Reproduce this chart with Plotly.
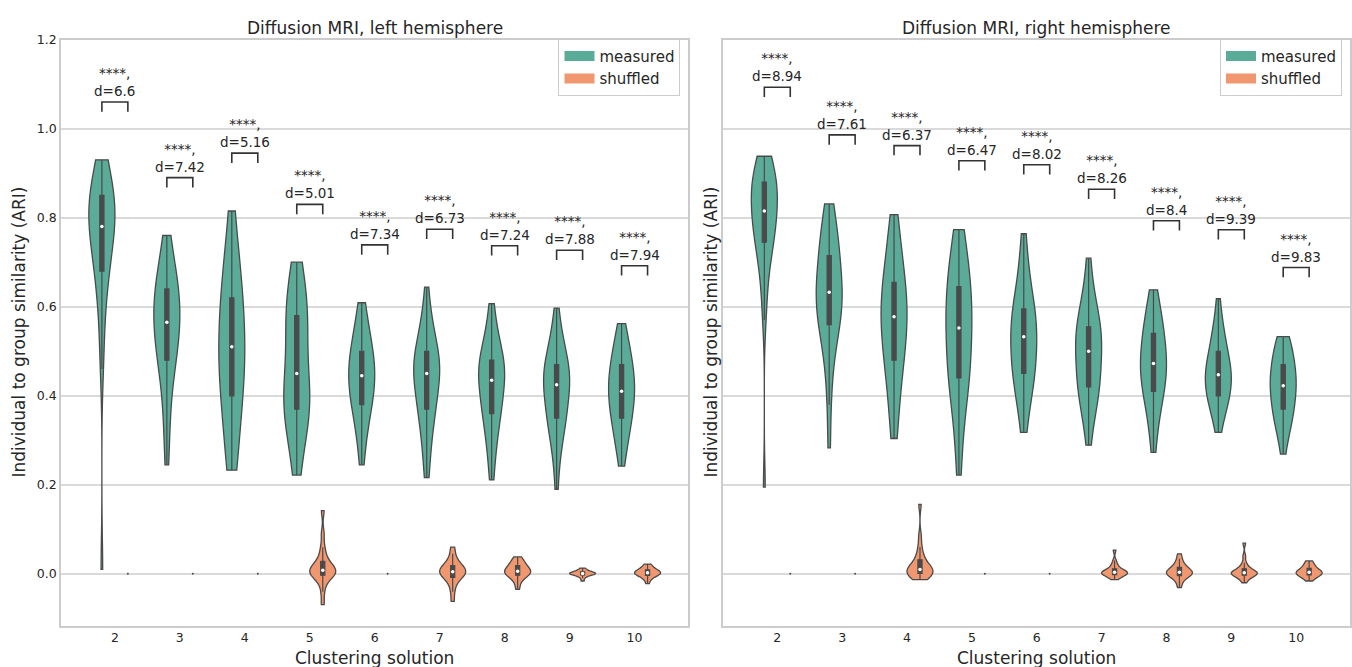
import numpy as np
import plotly.graph_objects as go

# ---------------- data ----------------
categories = ['2', '3', '4', '5', '6', '7', '8', '9', '10']

left_measured = [
    [0.01, 0.46, 0.52, 0.58, 0.62, 0.65, 0.67, 0.68, 0.70, 0.72, 0.74, 0.75, 0.76, 0.77, 0.78, 0.78, 0.79, 0.80, 0.81, 0.82, 0.83, 0.84, 0.85, 0.85, 0.86, 0.87, 0.88, 0.90, 0.92, 0.93],
    [0.245, 0.30, 0.35, 0.39, 0.42, 0.45, 0.47, 0.48, 0.49, 0.51, 0.52, 0.53, 0.54, 0.55, 0.56, 0.57, 0.58, 0.59, 0.60, 0.61, 0.62, 0.63, 0.64, 0.64, 0.66, 0.67, 0.69, 0.71, 0.73, 0.76],
    [0.233, 0.24, 0.27, 0.30, 0.33, 0.36, 0.38, 0.40, 0.41, 0.43, 0.44, 0.46, 0.47, 0.48, 0.50, 0.52, 0.53, 0.54, 0.56, 0.57, 0.59, 0.61, 0.62, 0.64, 0.66, 0.68, 0.70, 0.73, 0.77, 0.815],
    [0.222, 0.25, 0.28, 0.31, 0.33, 0.35, 0.36, 0.37, 0.38, 0.38, 0.39, 0.40, 0.41, 0.42, 0.44, 0.46, 0.48, 0.50, 0.52, 0.54, 0.56, 0.57, 0.58, 0.59, 0.60, 0.62, 0.64, 0.66, 0.68, 0.70],
    [0.245, 0.28, 0.31, 0.33, 0.35, 0.36, 0.37, 0.38, 0.39, 0.40, 0.41, 0.42, 0.43, 0.43, 0.44, 0.45, 0.45, 0.46, 0.47, 0.48, 0.49, 0.50, 0.50, 0.51, 0.52, 0.54, 0.55, 0.57, 0.59, 0.609],
    [0.216, 0.25, 0.28, 0.31, 0.33, 0.35, 0.36, 0.37, 0.38, 0.39, 0.40, 0.42, 0.43, 0.44, 0.45, 0.45, 0.46, 0.46, 0.47, 0.47, 0.48, 0.49, 0.50, 0.51, 0.52, 0.53, 0.55, 0.57, 0.59, 0.644],
    [0.211, 0.25, 0.28, 0.30, 0.32, 0.34, 0.35, 0.36, 0.37, 0.38, 0.39, 0.40, 0.41, 0.42, 0.43, 0.44, 0.45, 0.45, 0.46, 0.46, 0.47, 0.48, 0.48, 0.49, 0.50, 0.51, 0.53, 0.55, 0.57, 0.607],
    [0.19, 0.25, 0.28, 0.30, 0.32, 0.33, 0.34, 0.35, 0.36, 0.37, 0.38, 0.39, 0.40, 0.41, 0.42, 0.43, 0.43, 0.44, 0.45, 0.45, 0.46, 0.46, 0.47, 0.48, 0.49, 0.50, 0.52, 0.54, 0.55, 0.597],
    [0.242, 0.27, 0.29, 0.31, 0.32, 0.33, 0.34, 0.35, 0.36, 0.37, 0.38, 0.39, 0.40, 0.40, 0.41, 0.41, 0.42, 0.43, 0.44, 0.45, 0.45, 0.46, 0.47, 0.48, 0.49, 0.50, 0.51, 0.53, 0.54, 0.562],
]

left_shuffled = [
    [0.0, 0.0, 0.0],
    [0.0, 0.0, 0.0],
    [0.0, 0.0, 0.0],
    [-0.069, -0.04, -0.02, -0.01, -0.004, -0.002, 0.0, 0.002, 0.004, 0.007, 0.009, 0.012, 0.016, 0.02, 0.026, 0.03, 0.045, 0.06, 0.09, 0.142],
    [0.0, 0.0, 0.0],
    [-0.062, -0.04, -0.025, -0.015, -0.01, -0.006, -0.003, 0.0, 0.002, 0.004, 0.006, 0.008, 0.011, 0.014, 0.017, 0.02, 0.025, 0.032, 0.045, 0.06],
    [-0.035, -0.022, -0.012, -0.006, -0.004, -0.002, 0.0, 0.002, 0.004, 0.005, 0.007, 0.009, 0.011, 0.014, 0.017, 0.02, 0.024, 0.028, 0.033, 0.038],
    [-0.016, -0.01, -0.006, -0.004, -0.003, -0.002, -0.001, 0.0, 0.0, 0.001, 0.001, 0.002, 0.002, 0.003, 0.004, 0.005, 0.006, 0.008, 0.01, 0.013],
    [-0.022, -0.014, -0.009, -0.006, -0.004, -0.003, -0.001, 0.0, 0.001, 0.002, 0.003, 0.004, 0.005, 0.006, 0.008, 0.01, 0.012, 0.015, 0.018, 0.022],
]

right_measured = [
    [0.195, 0.57, 0.62, 0.66, 0.69, 0.71, 0.73, 0.745, 0.75, 0.76, 0.77, 0.78, 0.79, 0.80, 0.81, 0.82, 0.83, 0.84, 0.84, 0.85, 0.86, 0.87, 0.88, 0.88, 0.89, 0.90, 0.91, 0.92, 0.93, 0.938],
    [0.283, 0.38, 0.44, 0.48, 0.51, 0.53, 0.55, 0.56, 0.565, 0.58, 0.59, 0.60, 0.61, 0.62, 0.63, 0.635, 0.64, 0.65, 0.66, 0.68, 0.69, 0.71, 0.715, 0.73, 0.74, 0.76, 0.77, 0.79, 0.81, 0.831],
    [0.304, 0.33, 0.37, 0.40, 0.43, 0.45, 0.47, 0.48, 0.49, 0.51, 0.52, 0.54, 0.55, 0.56, 0.57, 0.585, 0.59, 0.60, 0.61, 0.62, 0.63, 0.65, 0.655, 0.67, 0.69, 0.71, 0.73, 0.75, 0.78, 0.807],
    [0.222, 0.28, 0.33, 0.37, 0.40, 0.42, 0.43, 0.44, 0.45, 0.46, 0.48, 0.50, 0.52, 0.53, 0.545, 0.56, 0.57, 0.58, 0.59, 0.60, 0.62, 0.635, 0.645, 0.66, 0.67, 0.69, 0.71, 0.73, 0.75, 0.773],
    [0.318, 0.35, 0.38, 0.40, 0.42, 0.43, 0.44, 0.45, 0.455, 0.47, 0.48, 0.49, 0.50, 0.51, 0.53, 0.535, 0.54, 0.55, 0.56, 0.57, 0.58, 0.585, 0.595, 0.61, 0.62, 0.64, 0.66, 0.69, 0.72, 0.764],
    [0.289, 0.33, 0.36, 0.38, 0.39, 0.40, 0.41, 0.42, 0.425, 0.44, 0.45, 0.46, 0.47, 0.48, 0.495, 0.505, 0.51, 0.52, 0.53, 0.54, 0.545, 0.55, 0.555, 0.57, 0.58, 0.59, 0.61, 0.63, 0.66, 0.709],
    [0.273, 0.31, 0.34, 0.36, 0.38, 0.39, 0.40, 0.41, 0.42, 0.43, 0.44, 0.45, 0.455, 0.46, 0.47, 0.475, 0.48, 0.49, 0.50, 0.51, 0.52, 0.53, 0.54, 0.55, 0.56, 0.57, 0.58, 0.60, 0.62, 0.638],
    [0.318, 0.34, 0.36, 0.37, 0.38, 0.39, 0.395, 0.40, 0.405, 0.41, 0.42, 0.43, 0.435, 0.44, 0.445, 0.45, 0.455, 0.46, 0.465, 0.47, 0.48, 0.49, 0.50, 0.51, 0.52, 0.53, 0.54, 0.56, 0.58, 0.618],
    [0.269, 0.30, 0.32, 0.33, 0.34, 0.35, 0.36, 0.37, 0.37, 0.38, 0.39, 0.40, 0.41, 0.41, 0.42, 0.425, 0.43, 0.44, 0.44, 0.45, 0.46, 0.465, 0.47, 0.48, 0.49, 0.50, 0.51, 0.52, 0.525, 0.533],
]

right_shuffled = [
    [0.0, 0.0, 0.0],
    [0.0, 0.0, 0.0],
    [-0.013, -0.01, -0.006, -0.003, 0.0, 0.002, 0.004, 0.005, 0.007, 0.009, 0.011, 0.014, 0.018, 0.022, 0.028, 0.035, 0.045, 0.06, 0.085, 0.156],
    [0.0, 0.0, 0.0],
    [0.0, 0.0, 0.0],
    [-0.013, -0.009, -0.006, -0.004, -0.002, -0.001, 0.0, 0.001, 0.002, 0.003, 0.004, 0.005, 0.006, 0.008, 0.01, 0.013, 0.017, 0.022, 0.03, 0.053],
    [-0.031, -0.02, -0.012, -0.008, -0.005, -0.003, -0.001, 0.0, 0.002, 0.003, 0.004, 0.006, 0.008, 0.01, 0.013, 0.016, 0.02, 0.026, 0.034, 0.045],
    [-0.02, -0.013, -0.009, -0.006, -0.004, -0.002, -0.001, 0.0, 0.001, 0.002, 0.003, 0.004, 0.006, 0.008, 0.01, 0.013, 0.018, 0.025, 0.04, 0.069],
    [-0.016, -0.011, -0.008, -0.005, -0.003, -0.002, 0.0, 0.001, 0.002, 0.003, 0.004, 0.005, 0.007, 0.009, 0.011, 0.014, 0.017, 0.021, 0.025, 0.029],
]

left_d = [6.6, 7.42, 5.16, 5.01, 7.34, 6.73, 7.24, 7.88, 7.94]
right_d = [8.94, 7.61, 6.37, 6.47, 8.02, 8.26, 8.4, 9.39, 9.83]
left_sig = ['****', '****', '****', '****', '****', '****', '****', '****', '****']
right_sig = ['****', '****', '****', '****', '****', '****', '****', '****', '****']

y_tick_vals = [0.0, 0.2, 0.4, 0.6, 0.8, 1.0, 1.2]
series_names = ['measured', 'shuffled']
panel_titles = ['Diffusion MRI, left hemisphere', 'Diffusion MRI, right hemisphere']

# ---------------- style ----------------
W, H = 1352, 667
FONT = 'DejaVu Sans'
TXT = '#262626'
TEAL = '#5aab97'
ORANGE = '#f0976f'
EDGE = '#4a4a4a'
GRID = '#dadada'
FRAME = '#cccccc'
HUE_OFF = 0.2
VIOLIN_W = 0.4

# pixel layout of the two plot areas
panels_px = [(61, 689), (724, 1351)]
top_px, bottom_px = 32, 625
bracket_gap = [0.13, 0.155]
bracket_tick = 0.022

fig = go.Figure()

panel_data = [
    (left_measured, left_shuffled, left_d, left_sig),
    (right_measured, right_shuffled, right_d, right_sig),
]

annotations = []
for p, (meas, shuf, dvals, sigs) in enumerate(panel_data):
    xa = 'x' if p == 0 else 'x2'
    ya = 'y' if p == 0 else 'y2'
    for i, cat in enumerate(categories):
        for s, (vals, off, col) in enumerate([(meas[i], -HUE_OFF, TEAL), (shuf[i], HUE_OFF, ORANGE)]):
            arr = np.array(vals, dtype=float)
            pos = i + off
            if np.ptp(arr) == 0:
                fig.add_trace(go.Scatter(x=[pos], y=[arr[0]], mode='markers',
                                         marker=dict(size=2, color=EDGE),
                                         showlegend=False, hoverinfo='skip',
                                         xaxis=xa, yaxis=ya))
                continue
            fig.add_trace(go.Violin(
                y=arr, x0=pos, width=VIOLIN_W, name=series_names[s],
                fillcolor=col, opacity=1,
                line=dict(color=EDGE, width=1.3),
                spanmode='hard', scalemode='width', points=False,
                box=dict(visible=True, width=0.16, fillcolor=EDGE,
                         line=dict(color=EDGE, width=1.2)),
                meanline=dict(visible=False),
                showlegend=False, xaxis=xa, yaxis=ya,
            ))
            fig.add_trace(go.Scatter(x=[pos], y=[float(np.median(arr))], mode='markers',
                                     marker=dict(size=3.5, color='white'),
                                     showlegend=False, hoverinfo='skip',
                                     xaxis=xa, yaxis=ya))
        # significance bracket
        top = max(max(meas[i]), max(shuf[i])) + bracket_gap[p]
        x0, x1 = i - HUE_OFF, i + HUE_OFF
        fig.add_trace(go.Scatter(x=[x0, x0, x1, x1],
                                 y=[top - bracket_tick, top, top, top - bracket_tick],
                                 mode='lines', line=dict(color='#333333', width=1.6),
                                 showlegend=False, hoverinfo='skip',
                                 xaxis=xa, yaxis=ya))
        annotations.append(dict(x=i, y=top, xref=xa, yref=ya, yanchor='bottom', yshift=1,
                                text=f'{sigs[i]},<br>d={dvals[i]}', showarrow=False,
                                align='center', font=dict(family=FONT, size=13.5, color=TXT)))

# legend entries
colors = [TEAL, ORANGE]
for p in range(2):
    for s in range(2):
        fig.add_trace(go.Scatter(x=[None], y=[None], mode='lines', name=series_names[s],
                                 line=dict(color=colors[s], width=11),
                                 legend='legend' if p == 0 else 'legend2',
                                 xaxis='x' if p == 0 else 'x2', yaxis='y' if p == 0 else 'y2'))

# titles and axis labels
for p, (l, r) in enumerate(panels_px):
    cx = (l + r) / 2 / W
    annotations.append(dict(x=cx, y=1 - 20 / H, xref='paper', yref='paper', text=panel_titles[p],
                            showarrow=False, xanchor='center', yanchor='middle',
                            font=dict(family=FONT, size=17, color=TXT)))
    annotations.append(dict(x=cx, y=1 - 658 / H, xref='paper', yref='paper', text='Clustering solution',
                            showarrow=False, xanchor='center', yanchor='middle',
                            font=dict(family=FONT, size=17, color=TXT)))
    ylx = 19.5 if p == 0 else 712
    annotations.append(dict(x=ylx / W, y=1 - 328 / H, xref='paper', yref='paper',
                            text='Individual to group similarity (ARI)', textangle=-90,
                            showarrow=False, xanchor='center', yanchor='middle',
                            font=dict(family=FONT, size=17, color=TXT)))

ydom = [1 - bottom_px / H, 1 - top_px / H]
xaxis_common = dict(range=[-0.83, 8.83], tickmode='array', tickvals=list(range(len(categories))),
                    ticktext=categories, showgrid=False, zeroline=False, showline=True, mirror=True,
                    linecolor=FRAME, linewidth=1.5, ticks='',
                    tickfont=dict(family=FONT, size=12.5, color=TXT))
yaxis_common = dict(range=[-0.116, 1.2], tickmode='array', tickvals=y_tick_vals,
                    tickformat='.1f', showgrid=True, gridcolor=GRID, gridwidth=1.5,
                    zeroline=False, showline=True, mirror=True, linecolor=FRAME, linewidth=1.5,
                    ticks='', tickfont=dict(family=FONT, size=12.5, color=TXT))

legend_common = dict(xanchor='right', yanchor='top', y=1 - 31 / H, bgcolor='white',
                     bordercolor=FRAME, borderwidth=1, itemwidth=30, tracegroupgap=0,
                     font=dict(family=FONT, size=15, color=TXT))

fig.update_layout(
    width=W, height=H, margin=dict(l=0, r=0, t=0, b=0),
    paper_bgcolor='white', plot_bgcolor='white',
    font=dict(family=FONT, color=TXT),
    xaxis=dict(domain=[panels_px[0][0] / W, panels_px[0][1] / W], anchor='y', **xaxis_common),
    xaxis2=dict(domain=[panels_px[1][0] / W, panels_px[1][1] / W], anchor='y2', **xaxis_common),
    yaxis=dict(domain=ydom, anchor='x', **yaxis_common),
    yaxis2=dict(domain=ydom, anchor='x2', matches='y', showticklabels=False,
                **{k: v for k, v in yaxis_common.items() if k != 'tickfont'}),
    legend=dict(x=681 / W, **legend_common),
    legend2=dict(x=1343 / W, **legend_common),
    annotations=annotations,
    violinmode='overlay',
)

fig.write_html('out.html')
